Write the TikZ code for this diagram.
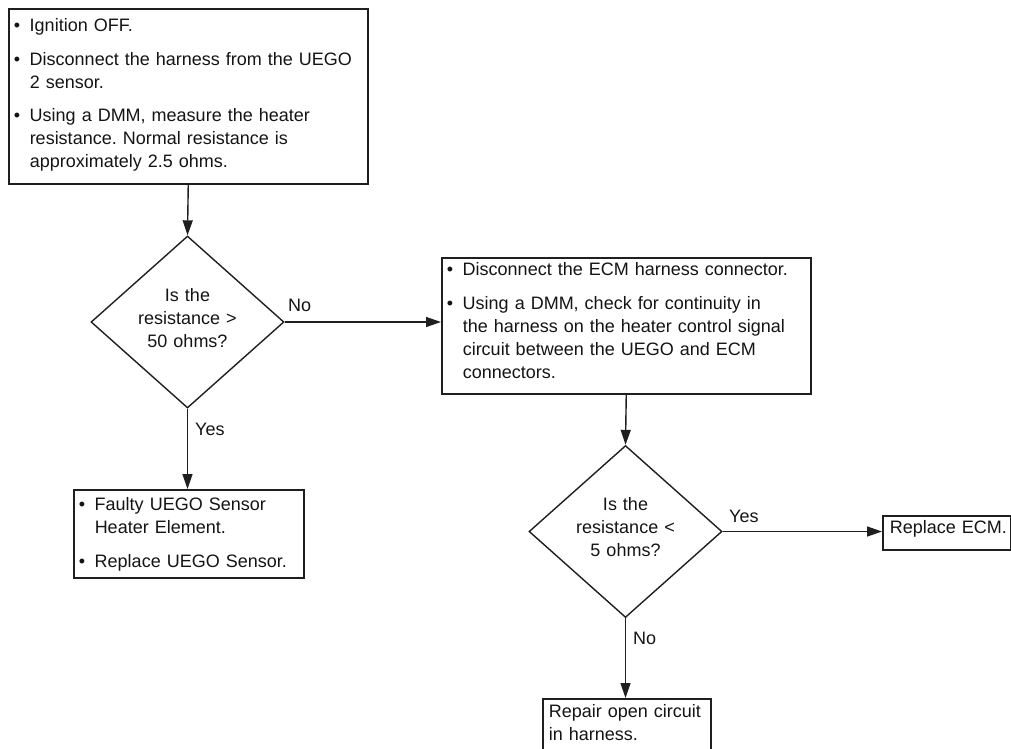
\documentclass[tikz,border=0pt]{standalone}
\usepackage{fontspec}
\setmainfont{Liberation Sans}
\usetikzlibrary{arrows.meta,shapes.geometric}
\frenchspacing
\newlength\hangw
\setlength\hangw{16pt}
\newcommand\bitem{\noindent\hangindent=\hangw\hangafter=1\makebox[\hangw][l]{•}}
\newcommand\itemgap{\par\vspace{10.5pt}}
\definecolor{ink}{gray}{0.08}
\definecolor{linec}{gray}{0.12}
\tikzset{
  x=1pt, y=-1pt,
  every node/.style={text=ink, font=\fontsize{18}{23}\selectfont},
  stepbox/.style={draw=linec, line width=1.5pt, anchor=north west, inner ysep=0pt, align=left},
  dia/.style={diamond, draw=linec, line width=1.4pt, shape aspect=1.12, minimum width=193pt, minimum height=172pt,
              inner sep=0pt, text width=104pt, align=center, text height=14pt, text depth=56pt},
  lab/.style={inner sep=0pt, anchor=base west},
  conn/.style={draw=linec, line width=1.4pt, -{Triangle[length=15pt,width=10pt]}}
}
\begin{document}
\begin{tikzpicture}
\useasboundingbox (0,0) rectangle (1011,748);
% boxes
\node[stepbox, inner xsep=5pt, text width=349pt, text height=23pt, text depth=152pt] (b1) at (8,8)
  {\bitem\mbox{Ignition OFF.}\itemgap
   \bitem\mbox{Disconnect the harness from the UEGO}\newline\mbox{2 sensor.}\itemgap
   \bitem\mbox{Using a DMM, measure the heater}\newline\mbox{resistance. Normal resistance is}\newline\mbox{approximately 2.5 ohms.}\par};
\node[dia] (d1) at (187.5,322) {Is the\\resistance >\\50 ohms?};
\node[stepbox, inner xsep=5pt, text width=359pt, text height=18pt, text depth=118pt] (b2) at (441,257)
  {\bitem\mbox{Disconnect the ECM harness connector.}\itemgap
   \bitem\mbox{Using a DMM, check for continuity in}\newline\mbox{the harness on the heater control signal}\newline\mbox{circuit between the UEGO and ECM}\newline\mbox{connectors.}\par};
\node[stepbox, inner xsep=5pt, text width=220pt, text height=21pt, text depth=67pt] (b3) at (73,489)
  {\bitem\mbox{Faulty UEGO Sensor}\newline\mbox{Heater Element.}\itemgap
   \bitem\mbox{Replace UEGO Sensor.}\par};
\node[dia] (d2) at (625.5,531.5) {Is the\\resistance <\\5 ohms?};
\node[stepbox, inner xsep=7pt, text width=113.5pt, text height=18pt, text depth=16pt] (ecm) at (882,515)
  {\mbox{Replace ECM.}};
\node[stepbox, inner xsep=6pt, text width=156pt, text height=19pt, text depth=55pt] (rep) at (542,698)
  {\mbox{Repair open circuit}\newline\mbox{in harness.}};
% connectors
\draw[conn] (b1.south) -- (d1.north);
\draw[conn] (d1.east) -- (d1.east -| b2.west);
\draw[conn] (d1.south) -- (d1.south |- b3.north);
\draw[conn] (b2.south) -- (d2.north);
\draw[conn] (d2.east) -- (d2.east -| ecm.west);
\draw[conn] (d2.south) -- (d2.south |- rep.north);
% labels
\node[lab] (l1) at (288,311) {No};
\node[lab] (l2) at (195,435) {Yes};
\node[lab] (l3) at (729,522) {Yes};
\node[lab] (l4) at (633,644) {No};
\end{tikzpicture}
\end{document}
